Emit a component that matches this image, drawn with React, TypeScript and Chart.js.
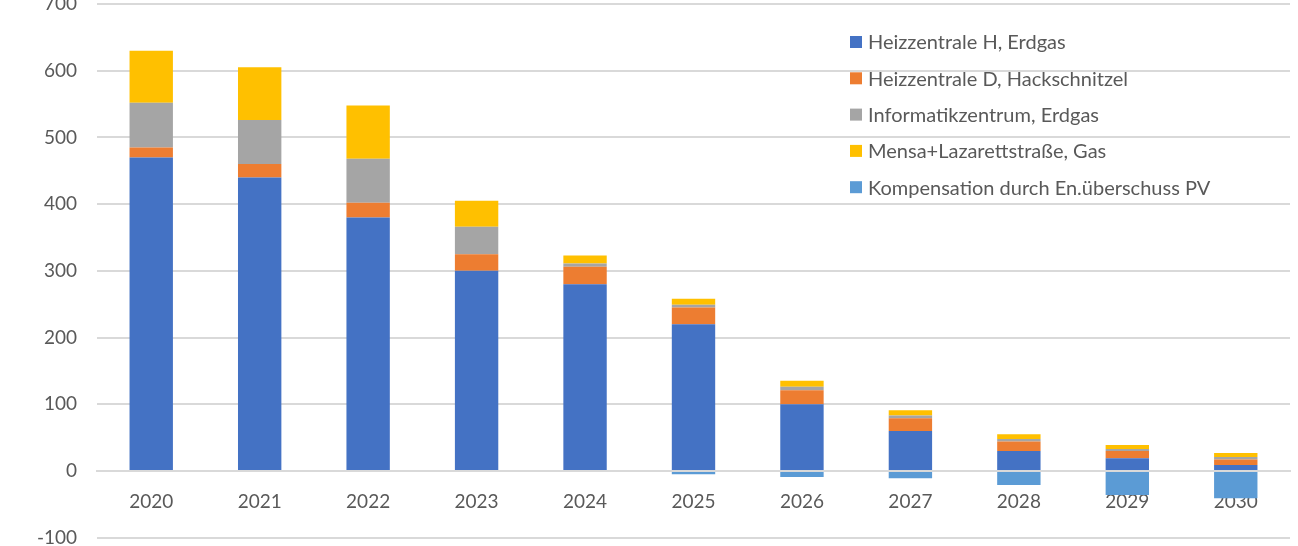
import React, { useEffect, useRef } from 'react';
import { Chart, registerables } from 'chart.js';

Chart.register(...registerables);

const years = ['2020', '2021', '2022', '2023', '2024', '2025', '2026', '2027', '2028', '2029', '2030'];
const heizzentraleH = [470, 440, 380, 300, 280, 220, 100, 60, 30, 19, 9];
const heizzentraleD = [15, 20, 22, 25, 26, 25, 21, 19, 14, 11, 8];
const informatikzentrum = [67, 66, 66, 41, 5, 4, 5, 4, 4, 3, 4];
const mensa = [78, 79, 80, 39, 12, 9, 9, 8, 7, 6, 6];
const kompensation = [0, 0, 0, 0, 0, -5, -9, -11, -21, -36, -41];

const seriesLabels = [
  'Heizzentrale H, Erdgas',
  'Heizzentrale D, Hackschnitzel',
  'Informatikzentrum, Erdgas',
  'Mensa+Lazarettstraße, Gas',
  'Kompensation durch En.überschuss PV',
];
const seriesColors = ['#4472C4', '#ED7D31', '#A5A5A5', '#FFC000', '#5B9BD5'];

const Y_MIN = -100;
const Y_MAX = 700;
const Y_STEP = 100;

const FONT = 'Lato, "Open Sans", sans-serif';
const TEXT_COLOR = '#595959';
const GRID_COLOR = '#D9D9D9';
const CANVAS_OFFSET = 30;
const CANVAS_HEIGHT = 599;

const legendPlugin = {
  id: 'customLegend',
  afterDraw(chart: any) {
    const ctx = chart.ctx;
    ctx.save();
    ctx.font = `20px ${FONT}`;
    ctx.textBaseline = 'middle';
    ctx.textAlign = 'left';
    chart.data.datasets.forEach((ds: any, i: number) => {
      const y = CANVAS_OFFSET + 42 + i * 36.3;
      ctx.fillStyle = ds.backgroundColor;
      ctx.fillRect(850, y - 6, 12, 12);
      ctx.fillStyle = TEXT_COLOR;
      ctx.fillText(ds.label, 868, y + 1);
    });
    ctx.restore();
  },
};

export default function App() {
  const ref = useRef<HTMLCanvasElement | null>(null);

  useEffect(() => {
    if (!ref.current) return;
    const data = [heizzentraleH, heizzentraleD, informatikzentrum, mensa, kompensation];
    const chart = new Chart(ref.current, {
      type: 'bar',
      data: {
        labels: years,
        datasets: data.map((d, i) => ({
          label: seriesLabels[i],
          data: d,
          backgroundColor: seriesColors[i],
          borderWidth: 0,
          categoryPercentage: 1,
          barPercentage: 0.4,
        })),
      },
      options: {
        responsive: false,
        animation: false,
        layout: { padding: { top: 34, right: 8, bottom: 0, left: 0 } },
        plugins: {
          legend: { display: false },
          tooltip: { enabled: false },
          title: { display: false },
        },
        scales: {
          x: {
            stacked: true,
            position: { y: 0 } as any,
            z: 1,
            afterFit: (scale: any) => {
              scale.height = 0;
            },
            grid: { display: false, drawTicks: false },
            border: { display: true, color: GRID_COLOR, width: 2 },
            ticks: {
              color: TEXT_COLOR,
              font: { family: FONT, size: 19 },
              padding: 20,
              maxRotation: 0,
            },
          },
          y: {
            stacked: true,
            min: Y_MIN,
            max: Y_MAX,
            afterFit: (scale: any) => {
              scale.width = 97;
            },
            grid: { color: GRID_COLOR, lineWidth: 2, drawTicks: false },
            border: { display: false },
            ticks: {
              stepSize: Y_STEP,
              color: TEXT_COLOR,
              font: { family: FONT, size: 19 },
              padding: 20,
            },
          },
        },
      },
      plugins: [legendPlugin],
    });
    return () => chart.destroy();
  }, []);

  return (
    <div style={{ position: 'fixed', left: 0, top: -CANVAS_OFFSET, width: 1298, height: CANVAS_HEIGHT, background: '#fff' }}>
      <canvas ref={ref} width={1298} height={CANVAS_HEIGHT} style={{ display: 'block' }} />
    </div>
  );
}
